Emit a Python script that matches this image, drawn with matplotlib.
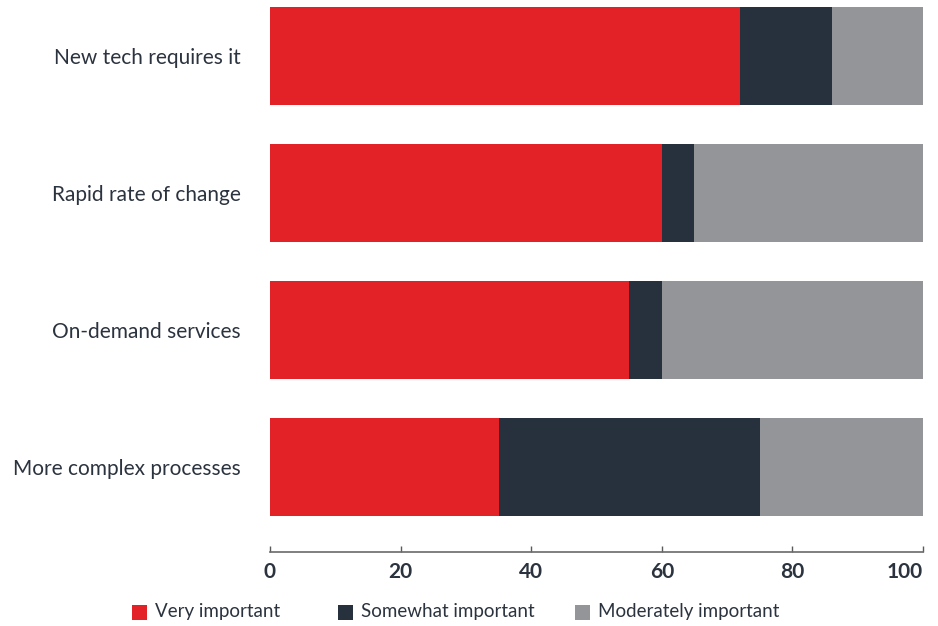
import matplotlib
matplotlib.use("Agg")
import matplotlib.pyplot as plt
from matplotlib.patches import Rectangle

plt.rcParams['font.family'] = ['Lato', 'DejaVu Sans']

categories = ["New tech requires it", "Rapid rate of change",
              "On-demand services", "More complex processes"]
series_names = ["Very important", "Somewhat important", "Moderately important"]
very = [72, 60, 55, 35]
somewhat = [14, 5, 5, 40]
moderately = [14, 35, 40, 25]
x_ticks = [0, 20, 40, 60, 80, 100]

colors = ["#e32227", "#27313d", "#939598"]
text_color = "#2b333e"

W, H = 938, 626
fig = plt.figure(figsize=(W / 100, H / 100), dpi=100)
ax = fig.add_axes([270 / W, 110 / H, 653 / W, 509 / H])

# move the x axis line below the bars before styling ticks
for s in ['left', 'right', 'top']:
    ax.spines[s].set_visible(False)
ax.spines['bottom'].set_position(('outward', 26))
ax.spines['bottom'].set_color("#6a6a6a")
ax.spines['bottom'].set_linewidth(1.2)

ypos = list(range(len(categories)))
left = [0] * len(categories)
for vals, name, col in zip([very, somewhat, moderately], series_names, colors):
    ax.barh(ypos, vals, left=left, height=0.715, color=col, label=name, linewidth=0)
    left = [l + v for l, v in zip(left, vals)]

ax.set_xlim(0, 100)
ax.set_ylim(3 + 0.3575, -0.3575)
ax.set_yticks(ypos)
ax.set_yticklabels(categories, fontsize=15, color=text_color)
ax.tick_params(axis='y', length=0, pad=21)

ax.set_xticks(x_ticks)
ax.set_xticklabels([str(t) for t in x_ticks], fontsize=15, fontweight='bold', color=text_color)
ax.tick_params(axis='x', direction='in', length=4.5, width=1.0, color="#5a5a5a", pad=7)
ax.get_xticklabels()[-1].set_horizontalalignment('right')

# legend: colour swatch followed by its label
legend_x = [132, 338, 575]
legend_y = 612
sw = 15
for x0, name, col in zip(legend_x, series_names, colors):
    fig.patches.append(Rectangle((x0 / W, (H - legend_y - sw / 2) / H), sw / W, sw / H,
                                 transform=fig.transFigure, facecolor=col,
                                 edgecolor='none'))
    fig.text((x0 + sw + 8) / W, (H - legend_y) / H, name, fontsize=13.5,
             color=text_color, ha='left', va='center')

fig.savefig("out.png", dpi=100)
